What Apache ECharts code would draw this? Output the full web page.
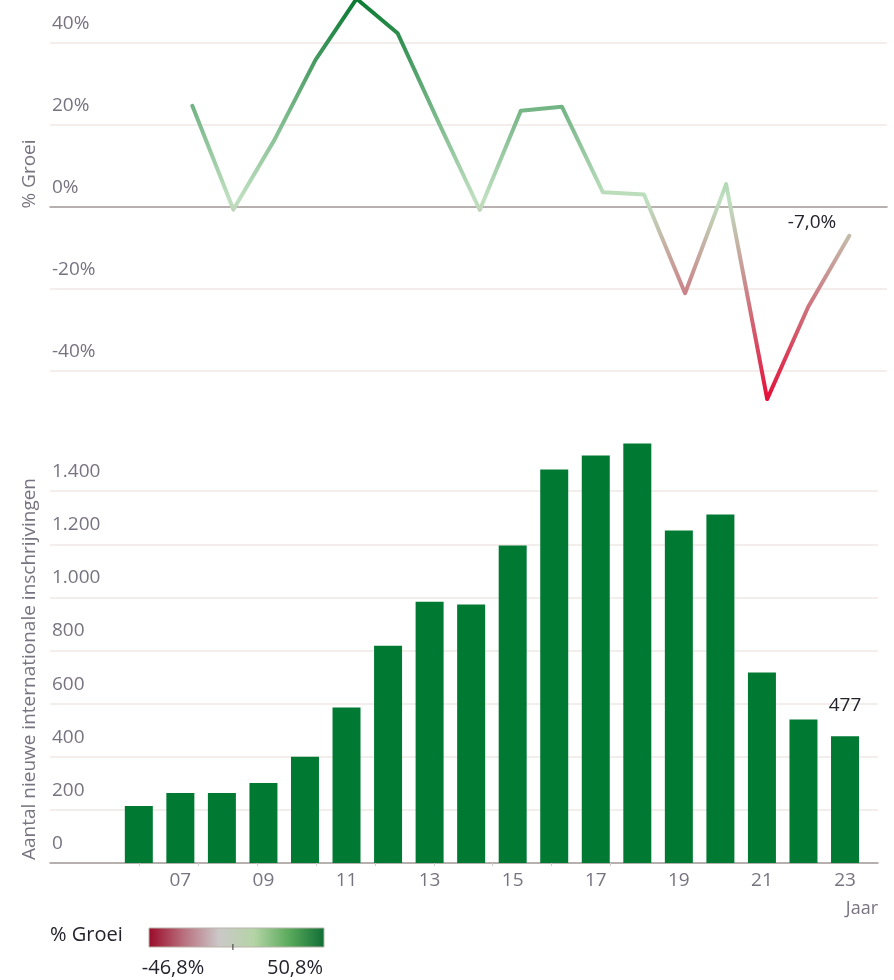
<!DOCTYPE html>
<html>
<head>
<meta charset="utf-8">
<script src="https://cdn.jsdelivr.net/npm/echarts@6/dist/echarts.min.js"></script>
<style>
  html, body { margin: 0; padding: 0; background: #fff; }
  #chart { width: 894px; height: 980px; }
</style>
</head>
<body>
<div id="chart"></div>
<script>
var myChart = echarts.init(document.getElementById('chart'));

// jaren en waarden
var barYears = [2006, 2007, 2008, 2009, 2010, 2011, 2012, 2013, 2014, 2015, 2016, 2017, 2018, 2019, 2020, 2021, 2022, 2023];
var registrations = [215, 264, 264, 301, 400, 585, 818, 984, 973, 1195, 1481, 1534, 1579, 1252, 1312, 717, 540, 477];
var growthYears = [2007, 2008, 2009, 2010, 2011, 2012, 2013, 2014, 2015, 2016, 2017, 2018, 2019, 2020, 2021, 2022, 2023];
var growth = [24.7, -0.6, 16.4, 35.9, 50.8, 42.4, 20.6, -0.7, 23.5, 24.5, 3.6, 3.1, -21.0, 5.6, -46.8, -24.3, -7.0];
var labelYears = [2007, 2009, 2011, 2013, 2015, 2017, 2019, 2021, 2023];
var tickYears = [2006, 2007.42, 2008.84, 2010.26, 2011.68, 2013.1, 2014.52, 2015.94, 2017.36];

var lineColors = ['#e5103a', '#cc7c84', '#bfe0c0', '#6cb07f', '#0a7a32'];
var legendColors = ['#9a0a28', '#b8707e', '#cbc8c8', '#b4d4a6', '#5aaa5c', '#0f6e35'];

var axisText = '#787380';
var darkText = '#24222d';
var gridColor = '#efe8e5';
var font = '"Open Sans"';

var gMin = Math.min.apply(null, growth);
var gMax = Math.max.apply(null, growth);

function pct(v) {
    return v.toFixed(1).replace('.', ',') + '%';
}
function thousands(v) {
    return String(v).replace(/\B(?=(\d{3})+(?!\d))/g, '.');
}

var lineData = growthYears.map(function (y, i) { return [y, growth[i]]; });
var barData = barYears.map(function (y, i) { return [y, registrations[i]]; });

// legenda onderaan
var lgX = 149, lgY = 928, lgW = 175, lgH = 19;
var zeroX = lgX + lgW * (0 - gMin) / (gMax - gMin);
var stops = legendColors.map(function (c, i) {
    return { offset: i / (legendColors.length - 1), color: c };
});

var option = {
    animation: false,
    textStyle: { fontFamily: font },
    grid: [
        { left: 50, right: 7, top: 0, height: 404, outerBoundsMode: 'none' },
        { left: 50, right: 16, top: 438, bottom: 117, outerBoundsMode: 'none' }
    ],
    xAxis: [
        {
            type: 'value', gridIndex: 0,
            min: 2003.534, max: 2023.918,
            axisLine: { onZero: true, lineStyle: { color: '#a39d9c', width: 1.5 } },
            axisTick: { show: false },
            axisLabel: { show: false },
            splitLine: { show: false }
        },
        {
            type: 'value', gridIndex: 1,
            min: 2003.862, max: 2023.794,
            axisLine: { lineStyle: { color: '#a39d9c', width: 1.5 } },
            axisTick: {
                show: true, length: 3, customValues: tickYears,
                lineStyle: { color: '#d2cdca' }
            },
            axisLabel: {
                customValues: labelYears,
                formatter: function (v) { return String(v).slice(2); },
                color: axisText, fontSize: 19, margin: 8, fontFamily: font
            },
            splitLine: { show: false },
            name: 'Jaar',
            nameLocation: 'end',
            nameGap: 0,
            nameTextStyle: {
                color: axisText, fontSize: 18, fontFamily: font,
                align: 'right', verticalAlign: 'top', padding: [37, 0, 0, 0]
            }
        }
    ],
    yAxis: [
        {
            type: 'value', gridIndex: 0,
            min: -48, max: 50.5,
            axisLine: { show: false },
            axisTick: { show: false },
            axisLabel: {
                inside: true, verticalAlign: 'bottom', margin: 2,
                padding: [0, 0, 10, 0],
                showMinLabel: false, showMaxLabel: false,
                color: axisText, fontSize: 19, fontFamily: font,
                formatter: function (v) { return v + '%'; }
            },
            splitLine: {
                showMinLine: false, showMaxLine: false,
                lineStyle: { color: gridColor, width: 1.5 }
            },
            name: '% Groei',
            nameLocation: 'middle',
            nameRotate: 90,
            nameGap: 11,
            nameTextStyle: { color: axisText, fontSize: 19, fontFamily: font, padding: [0, 0, 0, 56] }
        },
        {
            type: 'value', gridIndex: 1,
            min: 0, max: 1600, interval: 200,
            axisLine: { show: false },
            axisTick: { show: false },
            axisLabel: {
                inside: true, verticalAlign: 'bottom', margin: 2,
                padding: [0, 0, 10, 0],
                showMaxLabel: false,
                color: axisText, fontSize: 19, fontFamily: font,
                formatter: thousands
            },
            splitLine: {
                showMaxLine: false,
                lineStyle: { color: gridColor, width: 1.5 }
            },
            name: 'Aantal nieuwe internationale inschrijvingen',
            nameLocation: 'middle',
            nameRotate: 90,
            nameGap: 11,
            nameTextStyle: { color: axisText, fontSize: 19, fontFamily: font, padding: [0, 37, 0, 0] }
        }
    ],
    visualMap: {
        show: false,
        type: 'continuous',
        seriesIndex: 0,
        dimension: 1,
        min: gMin,
        max: gMax,
        inRange: { color: lineColors }
    },
    series: [
        {
            type: 'line',
            xAxisIndex: 0, yAxisIndex: 0,
            data: lineData,
            symbol: 'circle',
            symbolSize: 0,
            clip: false,
            lineStyle: { width: 4, cap: 'round', join: 'round' },
            label: {
                show: true,
                position: 'left',
                distance: 13,
                offset: [0, -13],
                color: darkText, fontSize: 19, fontFamily: font,
                formatter: function (p) {
                    return p.dataIndex === growth.length - 1 ? pct(p.value[1]) : '';
                }
            }
        },
        {
            type: 'bar',
            xAxisIndex: 1, yAxisIndex: 1,
            data: barData,
            barWidth: 28,
            itemStyle: { color: '#007a33' },
            label: {
                show: true,
                position: 'top',
                distance: 21,
                color: darkText, fontSize: 19, fontFamily: font,
                formatter: function (p) {
                    return p.dataIndex === registrations.length - 1 ? String(p.value[1]) : '';
                }
            }
        }
    ],
    graphic: [
        {
            type: 'text', left: 50, top: 925,
            style: { text: '% Groei', fill: darkText, font: '20px ' + font }
        },
        {
            type: 'rect',
            shape: { x: lgX, y: lgY, width: lgW, height: lgH },
            style: {
                fill: new echarts.graphic.LinearGradient(0, 0, 1, 0, stops),
                stroke: '#b9b3a8', lineWidth: 1
            }
        },
        {
            type: 'line',
            shape: { x1: zeroX, y1: lgY + lgH - 3, x2: zeroX, y2: lgY + lgH + 3 },
            style: { stroke: '#333', lineWidth: 1 }
        },
        {
            type: 'text', x: 173, y: 968,
            style: { text: pct(gMin), fill: darkText, font: '20px ' + font, align: 'center', verticalAlign: 'middle' }
        },
        {
            type: 'text', x: 295, y: 968,
            style: { text: pct(gMax), fill: darkText, font: '20px ' + font, align: 'center', verticalAlign: 'middle' }
        }
    ]
};

myChart.setOption(option);
</script>
</body>
</html>
